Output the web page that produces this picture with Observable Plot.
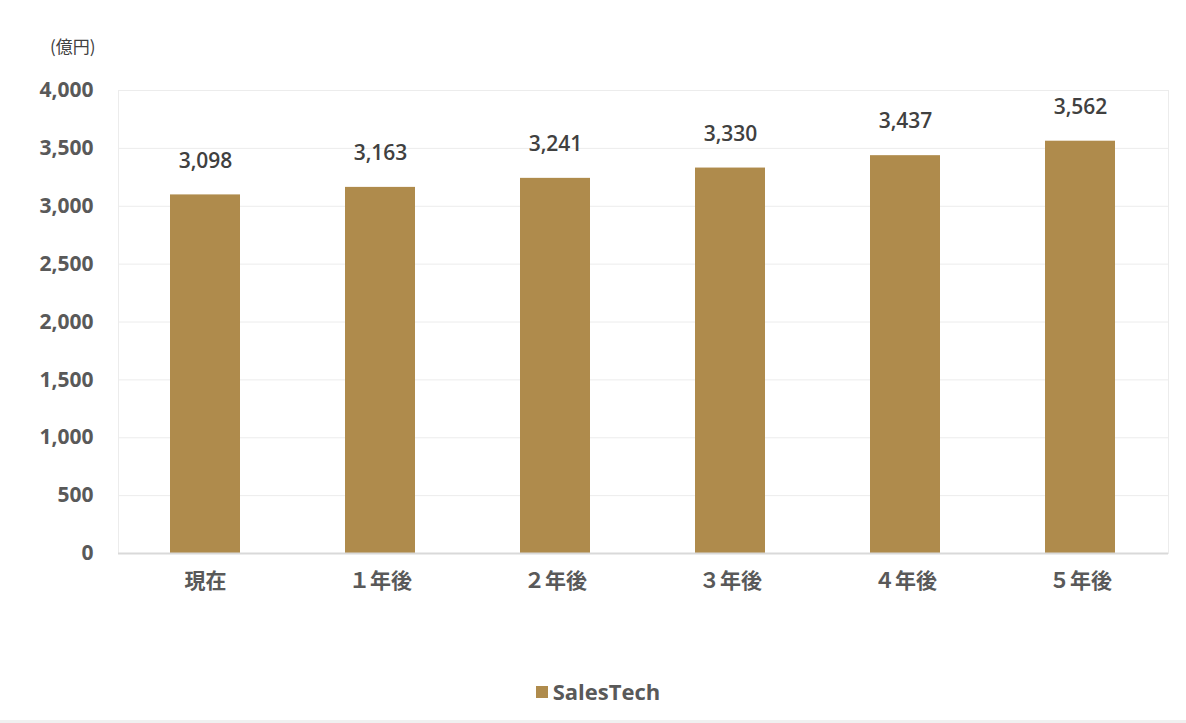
<!DOCTYPE html>
<html>
<head>
<meta charset="utf-8">
<script src="https://cdn.jsdelivr.net/npm/d3@7"></script>
<script src="https://cdn.jsdelivr.net/npm/@observablehq/plot@0.6"></script>
<style>
  html, body { margin: 0; padding: 0; background: #fff; }
  #wrap { position: relative; width: 1186px; height: 723px; font-family: "Open Sans", "Noto Sans CJK JP", sans-serif; }
  #unit { position: absolute; left: 50px; top: 33px; font-size: 17px; color: #404040; font-family: "Noto Sans CJK JP", sans-serif; }
  #legend { position: absolute; left: 0; width: 1186px; top: 676px; text-align: center; font-size: 22px; font-weight: 700; color: #595959; padding-left: 10px; box-sizing: border-box; }
  #legend .sw { display: inline-block; width: 12px; height: 12px; background: #AF8B4C; margin-right: 5px; vertical-align: 2px; }
  #bottomline { position: absolute; left: 0; top: 720px; width: 1186px; height: 3px; background: #f0f0f0; }
</style>
</head>
<body>
<div id="wrap">
  <div id="unit">(億円)</div>
  <div id="chart"></div>
  <div id="legend"><span class="sw"></span>SalesTech</div>
  <div id="bottomline"></div>
</div>
<script>
const categories = ["現在", "１年後", "２年後", "３年後", "４年後", "５年後"];
const values = [3098, 3163, 3241, 3330, 3437, 3562];
const yTicks = [0, 500, 1000, 1500, 2000, 2500, 3000, 3500, 4000];
const seriesName = "SalesTech";

const data = categories.map((c, i) => ({cat: c, value: values[i], series: seriesName}));
const fmt = d3.format(",");

const chart = Plot.plot({
  width: 1186,
  height: 660,
  marginTop: 90,
  marginBottom: 107,
  marginLeft: 118,
  marginRight: 18,
  style: {fontFamily: "'Open Sans', 'Noto Sans CJK JP', sans-serif", fontSize: "18px", background: "transparent"},
  x: {domain: categories, paddingInner: 0.6, paddingOuter: 0.3, label: null},
  y: {domain: [0, 4000], ticks: yTicks, label: null},
  marks: [
    Plot.gridY(yTicks, {stroke: "#ececec", strokeOpacity: 1, strokeWidth: 1}),
    Plot.frame({anchor: "left", stroke: "#ececec"}),
    Plot.frame({anchor: "right", stroke: "#ececec"}),
    Plot.frame({anchor: "top", stroke: "#ececec"}),
    Plot.barY(data, {x: "cat", y: "value", fill: "#AF8B4C"}),
    Plot.ruleY([0], {stroke: "#d9d9d9", strokeWidth: 2}),
    Plot.text(data, {x: "cat", y: "value", text: d => fmt(d.value), dy: -34, fill: "#404040", fontWeight: 600, fontSize: 21}),
    Plot.axisY(yTicks, {tickSize: 0, tickPadding: 25, tickFormat: fmt, fill: "#595959", fontWeight: 700, fontSize: 21}),
    Plot.axisX({tickSize: 0, tickPadding: 20, fill: "#595959", fontWeight: 700, fontSize: 21, fontFamily: "'Noto Sans CJK JP', sans-serif"})
  ]
});
document.getElementById("chart").appendChild(chart);
</script>
</body>
</html>
